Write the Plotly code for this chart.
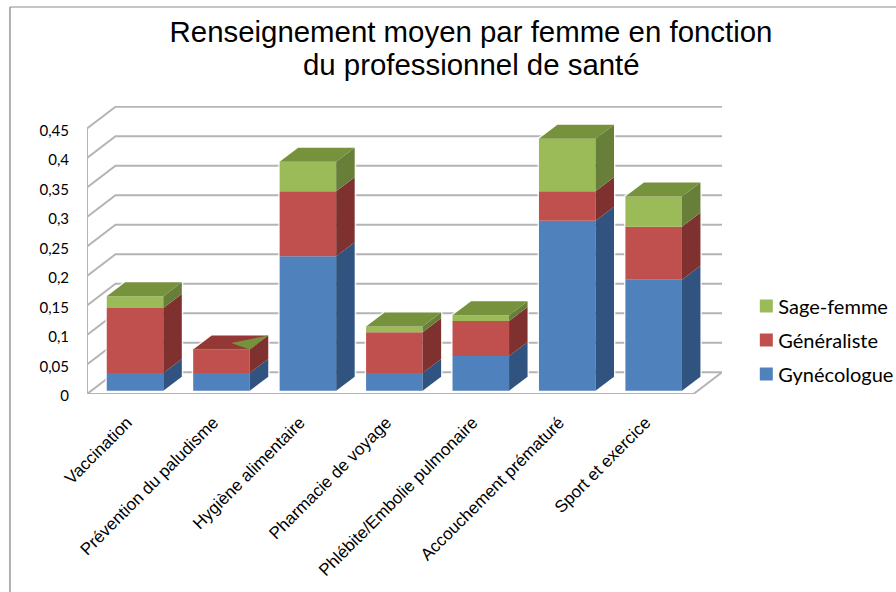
import plotly.graph_objects as go

categories = ["Vaccination", "Prévention du paludisme", "Hygiène alimentaire", "Pharmacie de voyage",
              "Phlébite/Embolie pulmonaire", "Accouchement prématuré", "Sport et exercice"]
gynecologue = [0.03, 0.03, 0.228, 0.03, 0.059, 0.288, 0.188]
generaliste = [0.11, 0.04, 0.11, 0.069, 0.059, 0.05, 0.09]
sage_femme = [0.02, 0.0, 0.05, 0.01, 0.01, 0.089, 0.051]
series_names = ["Gynécologue", "Généraliste", "Sage-femme"]
front_colors = ["#4F81BD", "#C0504D", "#9BBB59"]
side_colors = ["#30547F", "#7F312F", "#687F3A"]
top_colors = ["#3A6392", "#953735", "#76923C"]
y_ticks = [0, 0.05, 0.1, 0.15, 0.2, 0.25, 0.3, 0.35, 0.4, 0.45]
y_labels = ["0", "0,05", "0,1", "0,15", "0,2", "0,25", "0,3", "0,35", "0,4", "0,45"]
title_line1 = "Renseignement moyen par femme en fonction"
title_line2 = "du professionnel de santé"

W, H = 896, 592
L, R, T, B = 87.0, 721.7, 106.0, 394.0
PX_X = 86.4      # pixels per category
PX_Y = 590.0     # pixels per unit of value
X_MIN = (L - 135.0) / PX_X
X_MAX = X_MIN + (R - L) / PX_X
Y_MAX = (B - T) / PX_Y

BAR_W = 56.5 / PX_X
BAR_DX, BAR_DY = 18.5 / PX_X, 14.0 / PX_Y
BASE = 3.3 / PX_Y
WALL_DX, WALL_DY = 28.5 / PX_X, 21.7 / PX_Y
GRID = "#B4B4B4"

fig = go.Figure()


def poly(xs, ys, color):
    fig.add_trace(go.Scatter(x=xs, y=ys, mode="lines", fill="toself", fillcolor=color,
                             line=dict(width=0, color=color), showlegend=False, hoverinfo="skip"))


def line(xs, ys, color=GRID, width=2):
    fig.add_trace(go.Scatter(x=xs, y=ys, mode="lines", line=dict(color=color, width=width),
                             showlegend=False, hoverinfo="skip", cliponaxis=False))


# walls and floor
for t in y_ticks[1:]:
    line([X_MIN, X_MIN + WALL_DX, X_MAX], [t, t + WALL_DY, t + WALL_DY])
line([X_MIN, X_MIN + WALL_DX, X_MAX, X_MAX - WALL_DX, X_MIN],
     [0, WALL_DY, WALL_DY, 0, 0])
line([X_MIN, X_MIN], [0, y_ticks[-1]])

# bars
for i, cat in enumerate(categories):
    x0, x1 = i - BAR_W / 2, i + BAR_W / 2
    vals = [gynecologue[i], generaliste[i], sage_femme[i]]
    total = sum(vals)
    # pale halo around each bar
    line([x0, x1, x1 + BAR_DX, x1 + BAR_DX, x0 + BAR_DX, x0, x0],
         [BASE, BASE, BASE + BAR_DY, BASE + BAR_DY + total, BASE + BAR_DY + total, BASE + total, BASE],
         color="rgba(255,255,255,0.8)", width=3)
    bottom = BASE
    for s, v in enumerate(vals):
        top = bottom + v
        if v > 0:
            poly([x0, x1, x1, x0, x0], [bottom, bottom, top, top, bottom], front_colors[s])
            poly([x1, x1 + BAR_DX, x1 + BAR_DX, x1, x1],
                 [bottom, bottom + BAR_DY, top + BAR_DY, top, bottom], side_colors[s])
        bottom = top
    top_series = 2 if vals[2] > 0 else 1
    poly([x0, x1, x1 + BAR_DX, x0 + BAR_DX, x0],
         [bottom, bottom, bottom + BAR_DY, bottom + BAR_DY, bottom], top_colors[top_series])
    if vals[2] == 0:
        # zero-height top segment: the renderer's z-fighting sliver
        poly([x1 - 0.33 * BAR_W, x1, x1 + BAR_DX],
             [bottom + 0.45 * BAR_DY, bottom, bottom + BAR_DY], top_colors[2])
        line([x0, x1], [bottom, bottom], color=top_colors[2], width=1)

# legend
for s in [2, 1, 0]:
    fig.add_trace(go.Scatter(x=[None], y=[None], mode="markers", name=series_names[s],
                             legendgroup=series_names[s],
                             marker=dict(symbol="square", size=13, color=front_colors[s])))

fig.update_layout(
    width=W, height=H, autosize=False,
    margin=dict(l=L, r=W - R, t=T, b=H - B, pad=0, autoexpand=False),
    paper_bgcolor="white", plot_bgcolor="white",
    title=dict(text=title_line1, x=471 / W, xanchor="center", y=1 - 21 / H, yanchor="top",
               font=dict(family="Liberation Sans", size=29.4, color="#000000")),
    annotations=[dict(text=title_line2, xref="paper", yref="paper", showarrow=False,
                      x=(471 - L) / (R - L), xanchor="center", y=(B - 83) / (B - T), yanchor="bottom",
                      font=dict(family="Liberation Sans", size=29.4, color="#000000"))],
    xaxis=dict(range=[X_MIN, X_MAX], showgrid=False, zeroline=False, showline=False,
               tickmode="array", tickvals=list(range(len(categories))), ticktext=categories,
               tickangle=-45, ticks="outside", ticklen=11, tickcolor="rgba(0,0,0,0)",
               ticklabelshift=-8,
               tickfont=dict(family="Liberation Sans", size=17, color="#000000")),
    yaxis=dict(range=[0, Y_MAX], showgrid=False, zeroline=False, showline=False,
               tickmode="array", tickvals=y_ticks, ticktext=y_labels,
               ticks="outside", ticklen=14, tickcolor="rgba(0,0,0,0)",
               ticklabelshift=2,
               tickfont=dict(family="Lato", size=15, color="#000000")),
    legend=dict(x=(738 - L) / (R - L), xanchor="left", y=(B - 286.5) / (B - T), yanchor="top",
                font=dict(family="Lato", size=20, color="#000000"),
                traceorder="grouped", tracegroupgap=5, itemwidth=30,
                bgcolor="rgba(0,0,0,0)"),
    shapes=[
        dict(type="line", xref="paper", yref="paper", x0=(10 - L) / (R - L), x1=(10 - L) / (R - L),
             y0=(B - 7) / (B - T), y1=(B - 592) / (B - T), line=dict(color="#B0B0B0", width=2)),
        dict(type="line", xref="paper", yref="paper", x0=(10 - L) / (R - L), x1=(896 - L) / (R - L),
             y0=(B - 7) / (B - T), y1=(B - 7) / (B - T), line=dict(color="#8C8C8C", width=1)),
    ],
)

post = """
document.body.style.margin = '0';
document.querySelectorAll('.legend .legendpoints').forEach(function (p) {
  p.setAttribute('transform', 'translate(8,0)');
});
"""
fig.write_html("out.html", post_script=post, config={"displayModeBar": False})
